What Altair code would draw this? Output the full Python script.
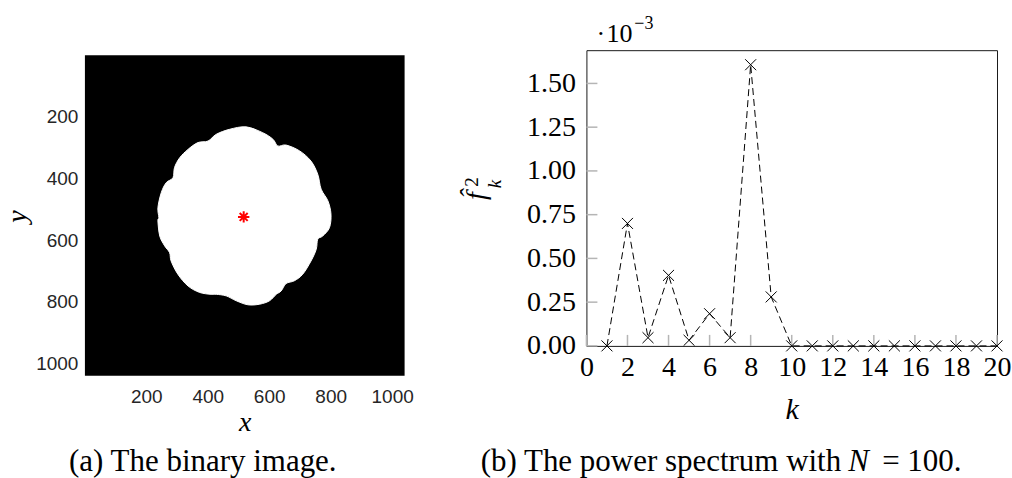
import altair as alt
import pandas as pd

# ---------------- data ----------------
# (a) boundary of the white region of the binary image (pixel coordinates)
blob_x = [401, 428, 471, 525, 579, 612, 628, 655, 699, 736, 758, 769, 791, 801, 796, 774,
          758, 753, 736, 709, 682, 655, 639, 623, 601, 569, 531, 493, 460, 428, 411, 374,
          336, 303, 281, 276, 260, 244, 238, 241, 238, 249, 265, 287, 292, 309, 336, 368]
blob_y = [279, 257, 241, 233, 252, 273, 295, 292, 311, 344, 387, 435, 473, 516, 560, 587,
          597, 630, 668, 711, 732, 741, 765, 776, 797, 808, 810, 797, 781, 776, 776, 770,
          749, 711, 668, 641, 619, 587, 538, 527, 495, 446, 414, 398, 365, 333, 306, 284]
centroid_x = [517]
centroid_y = [525]
img_extent = [0.5, 1040.5]
img_ticks = [200, 400, 600, 800, 1000]

# (b) power spectrum (values in units of 1e-3)
k_vals = list(range(1, 21))
power = [0.0, 0.70, 0.047, 0.403, 0.032, 0.184, 0.047, 1.607, 0.28, 0.0,
         0.0, 0.0, 0.0, 0.0, 0.0, 0.0, 0.0, 0.0, 0.0, 0.0]
k_ticks = [0, 2, 4, 6, 8, 10, 12, 14, 16, 18, 20]
p_ticks = [0.0, 0.25, 0.5, 0.75, 1.0, 1.25, 1.5]

SANS = "Liberation Sans"
SERIF = "Liberation Serif"
ASTERISK = "M-1,0L1,0M0,-1L0,1M-0.7,-0.7L0.7,0.7M-0.7,0.7L0.7,-0.7"
CROSS = "M-1,-1L1,1M-1,1L1,-1"

one = alt.Data(values=[{"a": 1}])

# ---------------- left panel ----------------
LW, LH = 320, 326
xs = alt.Scale(domain=img_extent, nice=False, zero=False)
ys = alt.Scale(domain=img_extent, nice=False, zero=False, range=[5, LH])
ax_x = alt.Axis(values=img_ticks, format="d", ticks=False, domain=False, grid=False,
                labelFont=SANS, labelFontSize=19, labelColor="#262626", labelPadding=12,
                title="x", titleFont=SERIF, titleFontStyle="italic", titleFontWeight="normal",
                titleFontSize=28, titleColor="black", titleBaseline="alphabetic",
                titleX=160, titleY=55)
ax_y = alt.Axis(values=img_ticks, format="d", ticks=False, domain=False, grid=False,
                labelFont=SANS, labelFontSize=19, labelColor="#262626", labelPadding=7,
                title="y", titleFont=SERIF, titleFontStyle="italic", titleFontWeight="normal",
                titleFontSize=28, titleColor="black", titleBaseline="alphabetic",
                titleAngle=270, titleX=-59, titleY=166)

img_df = pd.DataFrame({"x0": [img_extent[0]], "x1": [img_extent[1]],
                       "y0": [img_extent[0]], "y1": [img_extent[1]]})
img = alt.Chart(img_df).mark_rect(color="black").encode(
    x=alt.X("x0:Q", scale=xs, axis=ax_x), x2="x1:Q",
    y=alt.Y("y0:Q", scale=ys, axis=ax_y), y2="y1:Q",
)
blob_df = pd.DataFrame({"x": blob_x, "y": blob_y, "i": list(range(len(blob_x)))})
blob = alt.Chart(blob_df).mark_line(
    fill="white", stroke="white", strokeWidth=1, interpolate="cardinal-closed"
).encode(
    x=alt.X("x:Q", scale=xs, axis=ax_x),
    y=alt.Y("y:Q", scale=ys, axis=ax_y),
    order="i:Q",
)
star = alt.Chart(pd.DataFrame({"x": centroid_x, "y": centroid_y})).mark_point(
    shape=ASTERISK, size=130, stroke="red", strokeWidth=2, filled=False, opacity=1
).encode(
    x=alt.X("x:Q", scale=xs, axis=ax_x),
    y=alt.Y("y:Q", scale=ys, axis=ax_y),
)
cap_a = alt.Chart(one).mark_text(
    text="(a) The binary image.", font=SERIF, fontSize=31, color="black",
    align="center", baseline="alphabetic"
).encode(x=alt.value(118), y=alt.value(421))
spacer_a = alt.Chart(one).mark_rule(strokeWidth=0, opacity=0).encode(
    x=alt.value(-85), x2=alt.value(340), y=alt.value(-49), y2=alt.value(-49)
)
left = alt.layer(img, blob, star, cap_a, spacer_a).properties(
    width=LW, height=LH, view=alt.ViewBackground(fill="white", strokeWidth=0)
)

# ---------------- right panel ----------------
RW, RH = 411, 296
xk = alt.Scale(domain=[0, 20], nice=False)
yp = alt.Scale(domain=[0, 1.69], nice=False)
ax_k = alt.Axis(values=k_ticks, ticks=False, domain=False, grid=False,
                labelFont=SERIF, labelFontSize=28, labelColor="black", labelPadding=8,
                labelFlush=False,
                title="k", titleFont=SERIF, titleFontStyle="italic", titleFontWeight="normal",
                titleFontSize=30, titleColor="black", titleBaseline="alphabetic",
                titleX=205.5, titleY=73)
ax_p = alt.Axis(values=p_ticks, format=".2f", ticks=False, domain=False, grid=False,
                labelFont=SERIF, labelFontSize=28, labelColor="black", labelPadding=11,
                labelFlush=False, title=None)

spec_df = pd.DataFrame({"k": k_vals, "p": power})
xtick = alt.Chart(pd.DataFrame({"k": k_ticks})).mark_rule(
    color="#b5b5b5", strokeWidth=1.5
).encode(x=alt.X("k:Q", scale=xk, axis=ax_k), y=alt.value(RH), y2=alt.value(RH - 11))
ytick = alt.Chart(pd.DataFrame({"p": p_ticks})).mark_rule(
    color="#b5b5b5", strokeWidth=1.5
).encode(y=alt.Y("p:Q", scale=yp, axis=ax_p), x=alt.value(0), x2=alt.value(11))
line = alt.Chart(spec_df).mark_line(
    stroke="black", strokeWidth=1, strokeDash=[7, 4]
).encode(x=alt.X("k:Q", scale=xk, axis=ax_k), y=alt.Y("p:Q", scale=yp, axis=ax_p))
pts = alt.Chart(spec_df).mark_point(
    shape=CROSS, size=121, stroke="black", strokeWidth=1, filled=False, opacity=1
).encode(x=alt.X("k:Q", scale=xk, axis=ax_k), y=alt.Y("p:Q", scale=yp, axis=ax_p))


def txt(s, x, y, size, style="normal", align="left", angle=0, baseline="alphabetic"):
    kw = dict(text=s, font=SERIF, fontSize=size, fontStyle=style, color="black",
              align=align, baseline=baseline)
    if angle:
        kw["angle"] = angle
    return alt.Chart(one).mark_text(**kw).encode(x=alt.value(x), y=alt.value(y))


mult0 = txt("\u00b7", 10, -8, 26)
mult1 = txt("10", 20, -8, 26)
mult2 = txt("\u22123", 48, -21, 18)
ylab_f = txt("f\u0302", -102, 146, 28, style="italic", align="center", angle=270)
ylab_2 = txt("2", -109, 132, 19, align="center", angle=270)
ylab_k = txt("k", -86, 134, 19, style="italic", align="center", angle=270)
cap_b1 = txt("(b) The power spectrum with", 255, 421, 31, align="right")
cap_b2 = txt("N", 262, 421, 31, style="italic")
cap_b3 = txt("= 100.", 296, 421, 31)
spacer_b = alt.Chart(one).mark_rule(strokeWidth=0, opacity=0).encode(
    x=alt.value(-140), x2=alt.value(0), y=alt.value(-49), y2=alt.value(-49)
)

right = alt.layer(
    xtick, ytick, line, pts, mult0, mult1, mult2, ylab_f, ylab_2, ylab_k,
    cap_b1, cap_b2, cap_b3, spacer_b
).properties(
    width=RW, height=RH,
    view=alt.ViewBackground(fill="white", stroke="#1a1a1a", strokeWidth=1),
)

chart = alt.hconcat(left, right, spacing=21).properties(
    padding={"left": 0, "top": 0, "right": 0, "bottom": 0},
    background="white",
)

chart.save("out.html", embed_options={"renderer": "svg", "actions": False})
